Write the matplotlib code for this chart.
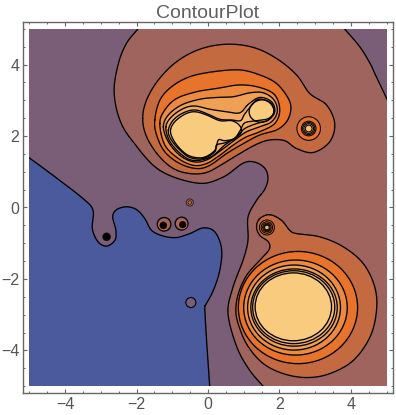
import numpy as np
import matplotlib
matplotlib.use("Agg")
import matplotlib.pyplot as plt
from matplotlib.patches import Rectangle, Ellipse, Circle

plt.rcParams['font.family'] = ['Liberation Sans', 'DejaVu Sans']

# contour lines, in data units
rose_left = [(-1.88,5.14),(-1.97,4.99),(-2.28,4.60),(-2.51,4.03),(-2.63,3.24),(-2.47,2.45),(-2.10,1.84),(-1.35,1.04),
             (-0.28,0.68),(0.42,0.85),(0.98,1.24),(1.31,1.27),(1.59,1.10),(1.68,0.82),(1.59,0.51),(1.36,0.20),
             (1.12,-0.27),(1.12,-0.92),(0.98,-1.48),(0.70,-2.23),(0.56,-2.96),(0.81,-3.91),(1.17,-4.56),
             (1.57,-5.03),(1.70,-5.2)]
rose_right = [(5.15,2.72),(5.0,3.06),(4.69,3.71),(4.54,4.03),(4.25,4.50),(3.83,4.99),(3.69,5.13)]
rose_corners = [(5.2,-5.2),(5.2,5.2)]

blue_edge = [(-5.16,1.49),(-5.02,1.40),(-4.34,0.90),(-3.50,0.25),(-3.22,-0.08),(-3.24,-0.59),(-3.08,-0.96),
             (-2.84,-1.08),(-2.61,-0.92),(-2.58,-0.64),(-2.67,-0.26),(-2.56,-0.06),(-2.28,0.02),(-2.00,-0.06),
             (-1.77,-0.31),(-1.58,-0.64),(-1.25,-0.80),(-0.88,-0.84),(-0.51,-0.73),(-0.13,-0.57),(0.19,-0.68),
             (0.38,-1.15),(0.33,-1.76),(0.15,-2.32),(-0.07,-2.74),(-0.09,-2.83),(-0.04,-3.72),(0.05,-5.03),(0.07,-5.2)]
blue_corners = [(-5.2,-5.2)]

brown_upper = [(-1.83,2.49),(-1.72,3.01),(-1.39,3.57),(-0.88,4.08),(-0.23,4.43),(0.52,4.57),(1.27,4.48),
               (1.92,4.17),(2.48,3.71),(2.85,3.19),(3.32,2.87),(3.55,2.35),(3.41,1.84),(2.95,1.54),(2.48,1.65),
               (2.15,1.87),(1.73,1.89),(1.36,1.77),(0.89,1.51),(0.43,1.23),(-0.04,0.98),(-0.51,0.95),
               (-0.97,1.09),(-1.39,1.46),(-1.72,1.98)]
brown_lower = [(1.73,-0.20),(2.06,-0.36),(2.29,-0.64),(2.48,-0.73),(3.13,-0.82),(3.79,-1.10),(4.35,-1.57),
               (4.67,-2.22),(4.72,-2.88),(4.54,-3.62),(4.07,-4.28),(3.41,-4.65),(2.76,-4.76),(2.11,-4.65),
               (1.55,-4.37),(1.13,-3.90),(0.89,-3.39),(0.78,-2.92),(0.85,-2.41),(1.08,-1.90),(1.41,-1.52),
               (1.71,-1.18),(1.69,-0.96),(1.45,-0.78),(1.36,-0.54),(1.45,-0.31)]

blob_1 = [(-1.49,2.45),(-1.35,3.00),(-1.02,3.38),(-0.51,3.66),(0.15,3.80),(0.89,3.85),(1.45,3.71),(1.92,3.47),
          (2.25,3.05),(2.32,2.73),(2.20,2.40),(1.92,2.17),(1.45,2.03),(0.99,1.79),(0.52,1.51),(0.05,1.18),
          (-0.32,1.09),(-0.79,1.23),(-1.21,1.56),(-1.44,2.03)]
blob_2 = [(-1.35,2.35),(-1.21,2.73),(-0.88,3.05),(-0.32,3.24),(0.24,3.33),(0.89,3.43),(1.45,3.36),(1.87,3.15),
          (2.01,2.73),(1.87,2.35),(1.45,2.12),(1.08,1.98),(0.71,1.75),(0.33,1.46),(-0.04,1.23),(-0.41,1.18),
          (-0.83,1.37),(-1.21,1.75)]
blob_3 = [(-1.25,2.26),(-1.11,2.59),(-0.74,2.87),(-0.23,3.03),(0.24,3.08),(0.71,3.10),(1.17,3.21),(1.55,3.21),
          (1.85,3.01),(1.94,2.68),(1.78,2.40),(1.45,2.26),(1.08,2.12),(0.75,1.89),(0.38,1.61),(-0.04,1.33),
          (-0.41,1.28),(-0.79,1.46),(-1.11,1.84)]
blob_4 = [(-1.18,2.26),(-1.02,2.54),(-0.69,2.77),(-0.37,2.84),(0.05,2.75),(0.52,2.68),(0.89,2.65),(1.13,2.89),
          (1.45,3.08),(1.78,2.96),(1.87,2.68),(1.69,2.45),(1.36,2.35),(1.03,2.21),(0.80,1.98),(0.47,1.75),
          (0.15,1.46),(-0.18,1.33),(-0.51,1.34),(-0.83,1.56),(-1.09,1.89)]
blob_5 = [(-1.11,2.17),(-0.97,2.45),(-0.69,2.65),(-0.37,2.73),(-0.04,2.63),(0.33,2.47),(0.66,2.45),(0.91,2.43),
          (1.01,2.59),(1.15,2.77),(1.41,3.03),(1.73,2.93),(1.85,2.68),(1.69,2.49),(1.36,2.43),(1.03,2.37),
          (0.91,2.17),(0.75,1.94),(0.47,1.81),(0.24,1.75),(0.19,1.56),(-0.13,1.37),(-0.51,1.40),(-0.83,1.65),
          (-1.05,1.93)]
blob_big = [(-1.05,2.17),(-0.93,2.40),(-0.65,2.61),(-0.37,2.68),(-0.04,2.59),(0.33,2.43),(0.66,2.43),(0.87,2.31),
            (0.94,2.12),(0.75,1.93),(0.47,1.87),(0.29,1.89),(0.19,1.60),(-0.13,1.40),(-0.51,1.44),(-0.79,1.65),
            (-0.99,1.93)]

# lower peak rings: centre x, centre y, half width, half height
lower_rings = [(2.52,-2.80,1.67,1.57),(2.45,-2.80,1.45,1.33),(2.41,-2.80,1.30,1.19),(2.41,-2.80,1.21,1.08),
               (2.40,-2.79,1.15,1.02),(2.39,-2.78,1.07,0.95)]
small_lobe = (1.50,2.70,0.35,0.31)

peak_right = (2.82,2.21)
peak_right_r = [0.33,0.205,0.17,0.135,0.095]
peak_lower = (1.65,-0.56)
peak_lower_r = [0.21,0.16,0.12,0.09,0.065]

wells = [(-1.23,-0.47,0.19),(-0.74,-0.45,0.18)]
well_cores = [(-1.25,-0.50,0.10),(-0.71,-0.48,0.095)]
dot_left = (-2.84,-0.82,0.11)
ring_top = (-0.51,0.14,0.10,0.05)
ring_bottom = (-0.48,-2.66,0.14)

xticks = [-4,-2,0,2,4]
yticks = [-4,-2,0,2,4]

purple = '#7A5E78'
blue = '#4A5A9C'
rose = '#A0645E'
brown = '#C46A40'
ramp = ['#E8732A','#EC8B40','#F0A055','#F3AD62','#F5B96F','#F8CB7E']
gray = '#666666'


def smooth(pts, closed=True, n=12):
    # catmull-rom through the read points, only to draw them as curves
    p = np.array(pts, dtype=float)
    if closed:
        p = np.vstack([p[-1], p, p[0], p[1]])
    else:
        p = np.vstack([p[0], p, p[-1]])
    t = np.linspace(0, 1, n, endpoint=False)[:, None]
    out = []
    for i in range(1, len(p) - 2):
        p0, p1, p2, p3 = p[i-1], p[i], p[i+1], p[i+2]
        out.append(0.5*(2*p1 + (p2-p0)*t + (2*p0-5*p1+4*p2-p3)*t**2 + (3*p1-p0-3*p2+p3)*t**3))
    out = np.vstack(out)
    if not closed:
        out = np.vstack([out, p[-2]])
    else:
        out = np.vstack([out, out[0]])
    return out


fig = plt.figure(figsize=(3.96, 4.15), dpi=100)
ax = fig.add_axes([22.7/396, 1-393.3/415, 370.6/396, 371.6/415])
ax.set_xlim(-5.19, 5.19)
ax.set_ylim(-5.2, 5.2)

clip = Rectangle((-5, -5), 10, 10, transform=ax.transData)
lw = 0.95


def filled(xy, color):
    for a in ax.fill(xy[:, 0], xy[:, 1], color=color, lw=0):
        a.set_clip_path(clip)


def traced(xy):
    for a in ax.plot(xy[:, 0], xy[:, 1], color='k', lw=lw):
        a.set_clip_path(clip)


def region(xy, color):
    filled(xy, color)
    traced(xy)


ax.add_patch(Rectangle((-5, -5), 10, 10, color=purple, lw=0))

left = smooth(rose_left, closed=False)
right = smooth(rose_right, closed=False)
filled(np.vstack([left, rose_corners, right]), rose)
traced(left)
traced(right)

edge = smooth(blue_edge, closed=False)
filled(np.vstack([edge, blue_corners]), blue)
traced(edge)

region(smooth(brown_upper), brown)
region(smooth(brown_lower), brown)

for i, blob in enumerate([blob_1, blob_2, blob_3, blob_4, blob_5]):
    region(smooth(blob), ramp[i])
region(smooth(blob_big), ramp[5])
ax.add_patch(Ellipse(small_lobe[:2], 2*small_lobe[2], 2*small_lobe[3], angle=15, fc=ramp[5], ec='k', lw=lw))

for i, (cx, cy, rx, ry) in enumerate(lower_rings):
    ax.add_patch(Ellipse((cx, cy), 2*rx, 2*ry, fc=ramp[i], ec='k', lw=lw))

for i, r in enumerate(peak_right_r):
    ax.add_patch(Circle(peak_right, r, fc=ramp[i], ec='k', lw=0.75))
for i, r in enumerate(peak_lower_r):
    ax.add_patch(Circle(peak_lower, r, fc=ramp[i], ec='k', lw=0.75))

for cx, cy, r in wells:
    ax.add_patch(Circle((cx, cy), r, fc=rose, ec='k', lw=lw))
for cx, cy, r in well_cores:
    ax.add_patch(Circle((cx, cy), r + 0.035, fc=brown, lw=0))
    ax.add_patch(Circle((cx, cy), r, fc='k', ec='k', lw=0.3))
ax.add_patch(Circle(dot_left[:2], dot_left[2], fc='k', ec='k', lw=0.3))
ax.add_patch(Circle(ring_top[:2], ring_top[2], fc=rose, ec='#33201c', lw=0.7))
ax.add_patch(Circle(ring_top[:2], ring_top[3], fc=brown, ec='#33201c', lw=0.6))
ax.add_patch(Circle(ring_bottom[:2], ring_bottom[2], fc=purple, ec='k', lw=0.8))

ax.set_xticks(xticks)
ax.set_yticks(yticks)
ax.set_xticklabels([str(v).replace('-', '\u2212') for v in xticks])
ax.set_yticklabels([str(v).replace('-', '\u2212') for v in yticks])
ax.set_xticks(np.arange(-5, 5.1, 0.5), minor=True)
ax.set_yticks(np.arange(-5, 5.1, 0.5), minor=True)
ax.tick_params(which='major', direction='in', length=3.2, width=0.8, color=gray, top=True, right=True,
               labelsize=11.5, labelcolor='#555555', pad=2.5)
ax.tick_params(which='minor', direction='in', length=1.7, width=0.7, color=gray, top=True, right=True)
for s in ax.spines.values():
    s.set_color(gray)
    s.set_linewidth(1.0)

ax.set_title('ContourPlot', fontsize=14, color='#5f5f5f', pad=3)

fig.savefig('out.png', dpi=100)
